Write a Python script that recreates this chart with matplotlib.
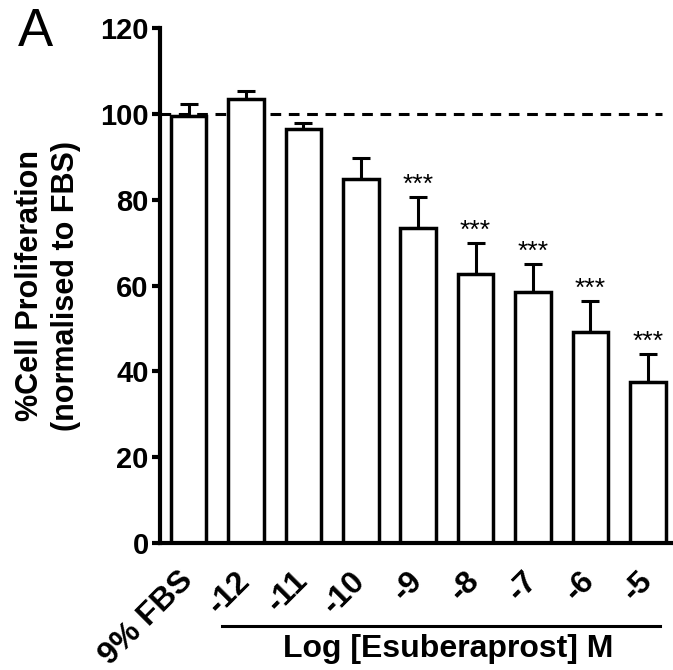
import numpy as np
import matplotlib.pyplot as plt
from matplotlib.transforms import blended_transform_factory

plt.rcParams['font.family'] = ['Liberation Sans', 'DejaVu Sans']

labels = ['9% FBS', '-12', '-11', '-10', '-9', '-8', '-7', '-6', '-5']
means = [99.5, 103.5, 96.4, 84.8, 73.3, 62.8, 58.4, 49.1, 37.6]
sem = [2.8, 1.9, 1.5, 5.0, 7.4, 7.2, 6.6, 7.3, 6.5]
signif = ['', '', '', '', '***', '***', '***', '***', '***']

fig = plt.figure(figsize=(6.73, 6.70), dpi=100)
ax = fig.add_axes([0.2377, 0.1896, 0.7623, 0.7685])

x = np.arange(len(labels))
ax.bar(x, means, width=0.62, color='white', edgecolor='black', linewidth=2.5, zorder=2)
ax.errorbar(x, means, yerr=[np.zeros(len(sem)), sem], fmt='none', ecolor='black',
            elinewidth=2.2, capsize=6.5, capthick=2.2, zorder=1)

for xi, m, s, t in zip(x, means, sem, signif):
    if t:
        ax.annotate(t, (xi, m + s), xytext=(0, 0), textcoords='offset points',
                    ha='center', va='bottom', fontsize=19)

ax.axhline(100, xmin=0, xmax=0.978, color='black', linestyle=(0, (3.5, 2.5)),
           linewidth=2.2, zorder=0)

ax.set_xlim(-0.5, 8.44)
ax.set_ylim(0, 120)
ax.set_yticks(np.arange(0, 121, 20))
ax.set_xticks(x)
ax.set_xticklabels(labels, rotation=45, ha='right', va='center',
                   rotation_mode='anchor', fontsize=23, fontweight='bold')
ax.tick_params(axis='x', length=0, pad=24)
ax.tick_params(axis='y', length=6, width=3, pad=2, labelsize=21)
for lab in ax.get_yticklabels():
    lab.set_fontweight('bold')

for side in ['top', 'right']:
    ax.spines[side].set_visible(False)
for side in ['left', 'bottom']:
    ax.spines[side].set_linewidth(3)

ax.set_ylabel('%Cell Proliferation\n(normalised to FBS)', fontsize=22,
              fontweight='bold', labelpad=14, linespacing=1.25)

trans = blended_transform_factory(ax.transData, ax.transAxes)
ax.plot([0.58, 8.21], [-0.161, -0.161], color='black', linewidth=2.2,
        transform=trans, clip_on=False)
ax.text(4.52, -0.205, 'Log [Esuberaprost] M', transform=trans, ha='center',
        va='center', fontsize=23, fontweight='bold')

fig.text(0.027, 0.99, 'A', fontsize=38, ha='left', va='top')

fig.savefig('out.png', dpi=100)
